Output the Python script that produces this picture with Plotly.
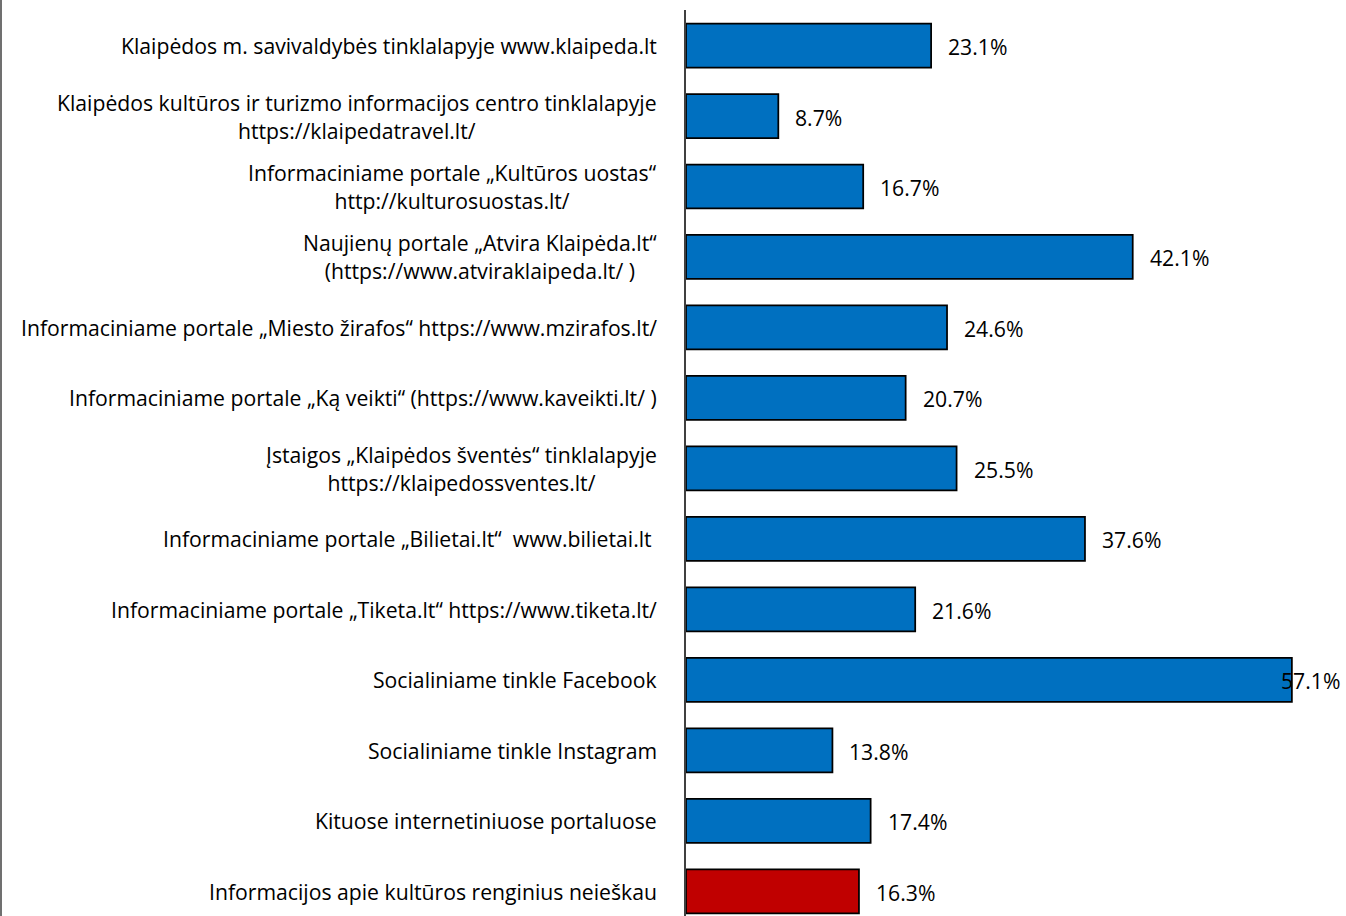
import plotly.graph_objects as go

categories = [
    "Klaipėdos m. savivaldybės tinklalapyje www.klaipeda.lt",
    "Klaipėdos kultūros ir turizmo informacijos centro tinklalapyje<br>https://klaipedatravel.lt/",
    "Informaciniame portale „Kultūros uostas“<br>http://kulturosuostas.lt/",
    "Naujienų portale „Atvira Klaipėda.lt“<br>(https://www.atviraklaipeda.lt/ )",
    "Informaciniame portale „Miesto žirafos“ https://www.mzirafos.lt/",
    "Informaciniame portale „Ką veikti“ (https://www.kaveikti.lt/ )",
    "Įstaigos „Klaipėdos šventės“ tinklalapyje<br>https://klaipedossventes.lt/",
    "Informaciniame portale „Bilietai.lt“  www.bilietai.lt ",
    "Informaciniame portale „Tiketa.lt“ https://www.tiketa.lt/",
    "Socialiniame tinkle Facebook",
    "Socialiniame tinkle Instagram",
    "Kituose internetiniuose portaluose",
    "Informacijos apie kultūros renginius neieškau",
]
values = [23.1, 8.7, 16.7, 42.1, 24.6, 20.7, 25.5, 37.6, 21.6, 57.1, 13.8, 17.4, 16.3]
value_labels = ["23.1%", "8.7%", "16.7%", "42.1%", "24.6%", "20.7%", "25.5%",
                "37.6%", "21.6%", "57.1%", "13.8%", "17.4%", "16.3%"]
bar_colors = ["#0070C0"] * 12 + ["#C00000"]

W, H = 1346, 916
ML, MT = 686, 10
XMAX = 62.2
FONT = "Open Sans"
FS = 21.2

ypos = list(range(len(categories)))

fig = go.Figure()
fig.add_trace(go.Bar(
    x=values, y=ypos, orientation="h",
    marker=dict(color=bar_colors, line=dict(color="#000000", width=1.75)),
    width=0.624,
    hoverinfo="skip",
))

annotations = []
for i, (cat, v, lab) in enumerate(zip(categories, values, value_labels)):
    annotations.append(dict(
        x=0, y=i, xref="x", yref="y", text=cat, showarrow=False,
        xanchor="right", yanchor="middle", align="center", xshift=-27,
        font=dict(family=FONT, size=FS, color="#000000"),
    ))
    if v > 0.9 * XMAX:
        annotations.append(dict(
            x=XMAX, y=i, xref="x", yref="y", text=lab, showarrow=False,
            xanchor="right", yanchor="middle", xshift=-4, yshift=-1,
            font=dict(family=FONT, size=FS, color="#000000"),
        ))
    else:
        annotations.append(dict(
            x=v, y=i, xref="x", yref="y", text=lab, showarrow=False,
            xanchor="left", yanchor="middle", xshift=15, yshift=-1,
            font=dict(family=FONT, size=FS, color="#000000"),
        ))

fig.update_layout(
    width=W, height=H,
    margin=dict(l=ML, r=0, t=MT, b=0, pad=0),
    paper_bgcolor="#FFFFFF", plot_bgcolor="#FFFFFF",
    showlegend=False,
    xaxis=dict(range=[0, XMAX], showgrid=False, zeroline=False,
               showticklabels=False, ticks="", showline=False),
    yaxis=dict(range=[12.35, -0.504], showgrid=False, zeroline=False,
               showticklabels=False, ticks="", showline=True,
               linecolor="#404040", linewidth=1.5, mirror=False),
    annotations=annotations,
    shapes=[dict(type="line", xref="paper", yref="paper",
                 x0=-(ML - 1) / (W - ML), x1=-(ML - 1) / (W - ML),
                 y0=0, y1=1 + MT / (H - MT),
                 line=dict(color="#404040", width=1.5))],
)

fig.write_html("out.html",
               config={"displayModeBar": False},
               post_script="document.body.style.margin='0';document.body.style.overflow='hidden';")
